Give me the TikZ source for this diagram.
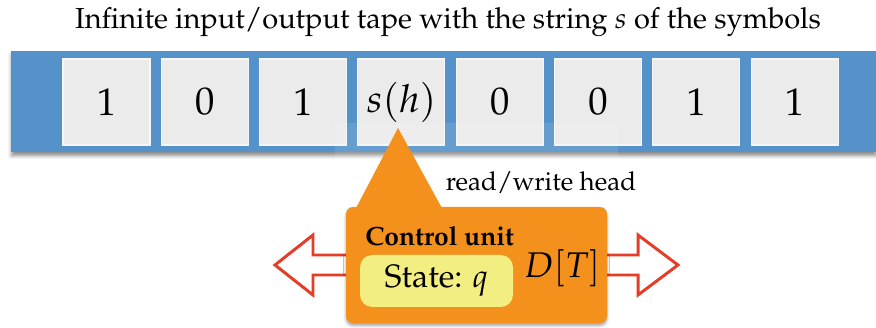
\documentclass[tikz,border=0pt]{standalone}
\usepackage[T1]{fontenc}
\usepackage{mathpazo}
\usepackage{xcolor}
\usetikzlibrary{shapes.geometric, arrows.meta, positioning, shadows.blur}
\definecolor{tapeblue}{RGB}{84,146,201}
\definecolor{cellgray}{RGB}{235,235,235}
\definecolor{headorange}{RGB}{243,145,28}
\definecolor{stateyellow}{RGB}{243,238,130}
\definecolor{arrowred}{RGB}{228,62,38}

\begin{document}
\begin{tikzpicture}[
        tape/.style={rectangle, fill=tapeblue, minimum width=17.3cm, minimum height=2.02cm, inner sep=0pt, blur shadow={shadow xshift=0pt, shadow yshift=-2pt, shadow blur radius=2pt, shadow opacity=45}},
        cell/.style={rectangle, fill=cellgray, draw=white!55!cellgray, line width=0.6pt, minimum width=1.74cm, minimum height=1.72cm, inner sep=0pt, font=\fontsize{22}{26}\selectfont},
        unit/.style={rectangle, fill=headorange, rounded corners=4pt, minimum width=5.22cm, minimum height=2.32cm, inner sep=0pt, blur shadow={shadow xshift=0pt, shadow yshift=-1.5pt, shadow blur radius=1.5pt, shadow opacity=35}},
        statebox/.style={rectangle, fill=stateyellow, rounded corners=7pt, minimum width=3.06cm, minimum height=1.04cm, inner sep=0pt, font=\fontsize{18.4}{21}\selectfont},
        hollow/.style={draw=arrowred, fill=white, line width=1.7pt, line join=miter},
        lab/.style={font=\fontsize{14.8}{17}\selectfont, inner sep=0pt}
    ]
    \useasboundingbox (0,0) rectangle (17.52,-6.56);

    % Titel ueber dem Band
    \node (title) [font=\fontsize{16.5}{19}\selectfont, anchor=base] at (8.96,-0.58) {Infinite input/output tape with the string $s$ of the symbols};

    % Band mit den Zellen
    \node (tape) [tape, anchor=north west] at (0.22,-1.02) {};
    \foreach \sym [count=\i] in {1,0,1,$s(h)$,0,0,1,1}
        \node (c\i) [cell] at ({2.13+(\i-1)*1.966},-2.04) {\sym};

    % heller Schleier hinter der Beschriftung des Kopfes
    \fill [white, opacity=0.1] (6.7,-2.46) rectangle (12.36,-4.2);

    % Pfeile nach links und rechts (Bewegung des Kopfes)
    \coordinate (mid) at (9.53,-5.3);
    \draw [hollow] (6.92,-5.1) -- ++(-0.66,0) -- ++(0,0.4) -- ++(-0.76,-0.6) -- ++(0.76,-0.6) -- ++(0,0.4) -- ++(0.66,0);
    \draw [hollow] (12.14,-5.1) -- ++(0.62,0) -- ++(0,0.4) -- ++(0.8,-0.6) -- ++(-0.8,-0.6) -- ++(0,0.4) -- ++(-0.62,0);

    % Steuereinheit mit Lese-/Schreibkopf
    \node (unit) [unit] at (mid) {};
    \coordinate (head) at (7.96,-2.56);
    \fill [headorange] (head) -- (7.1,-4.2) -- (8.86,-4.2) -- cycle;

    \node (rw)    [lab] at (10.82,-3.66) {read/write head};
    \node (cu)    [font=\fontsize{15}{18}\selectfont\bfseries, anchor=west, inner sep=0pt] at (7.3,-4.72) {Control unit};
    \node (state) [statebox] at (8.73,-5.62) {State: $q$};
    \node (dt)    [font=\fontsize{20.3}{23}\selectfont, anchor=base, inner sep=0pt] at (11.24,-5.56) {$D[T]$};

\end{tikzpicture}
\end{document}
